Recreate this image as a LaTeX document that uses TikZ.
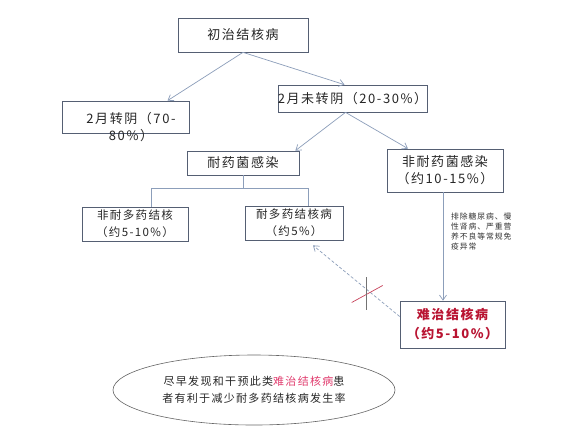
\documentclass[tikz,border=0pt]{standalone}
\usepackage{fontspec}
\newfontfamily\cjk[LetterSpace=12]{Noto Sans CJK SC}
\usetikzlibrary{shapes.geometric,arrows.meta}
\definecolor{boxline}{RGB}{85,95,115}
\definecolor{linkcol}{RGB}{140,158,186}
\definecolor{hardred}{RGB}{185,20,50}
\definecolor{pinkred}{RGB}{225,60,110}

\begin{document}
\begin{tikzpicture}[x=1pt, y=-1pt, >={Straight Barb[length=5pt,width=7pt]},
  box/.style={draw=boxline, line width=0.7pt, inner sep=0pt, align=center, text=black!85, font=\cjk\fontsize{13}{17}\selectfont},
  smallbox/.style={box, font=\cjk\fontsize{11.5}{17}\selectfont},
  link/.style={draw=linkcol, line width=0.7pt}]
  \fill[white] (0,0) rectangle (577,432);
  \useasboundingbox (0,0) rectangle (577,432);

  % first and second month
  \node[box, minimum width=130pt, minimum height=34pt] (start) at (243,35) {初治结核病};
  \node[box, minimum width=127pt, minimum height=32pt] (yin) at (125.5,117) {};
  \node[font=\cjk\fontsize{13}{17}\selectfont, align=center, text=black!85] (yintext) at (131,127) {2月转阴（70-\\80\%）};
  \node[box, minimum width=143pt, minimum height=27pt] (weiyin) at (352.5,98.5) {2月未转阴（20-30\%）};
  \draw[link,->] (start.south) -- ([xshift=42pt]yin.north);
  \draw[link,->] (start.south) -- ([xshift=-8pt]weiyin.north);

  % resistant or not
  \node[box, minimum width=112pt, minimum height=24pt] (naiyao) at (243,163) {耐药菌感染};
  \node[box, minimum width=116pt, minimum height=43pt] (feinai) at (445,170.5) {非耐药菌感染\\（约10-15\%）};
  \draw[link,->] ([xshift=-7pt]weiyin.south) -- ([xshift=-4pt]naiyao.north east);
  \draw[link,->] ([xshift=-7pt]weiyin.south) -- ([xshift=-37pt]feinai.north);

  % split of the resistant branch
  \node[smallbox, minimum width=106pt, minimum height=34pt] (feiduo) at (135,224) {非耐多药结核\\（约5-10\%）};
  \node[smallbox, minimum width=98pt, minimum height=34pt] (naiduo) at (294,223) {耐多药结核病\\（约5\%）};
  \draw[link] (naiyao.south) -- ++(0,13) coordinate (fork);
  \draw[link] ([xshift=16pt]feiduo.north) |- (fork) -| ([xshift=14pt]naiduo.north);

  % hard to treat
  \node[box, minimum width=105pt, minimum height=47pt, text=hardred, font=\cjk\bfseries\fontsize{13}{19}\selectfont] (nanzhi) at (452.5,324.5) {难治结核病\\（约5-10\%）};
  \draw[link,->] ([xshift=-2pt]feinai.south) -- ([xshift=-9.5pt]nanzhi.north);
  \node[anchor=north west, align=left, inner sep=0pt, font=\cjk\fontsize{7.8}{9.8}\selectfont, text=black!80] (note) at (451,213) {排除糖尿病、慢\\性肾病、严重营\\养不良等常规免\\疫异常};

  % blocked way back to MDR
  \draw[link,->,densely dashed] ([yshift=8pt]nanzhi.west) -- coordinate[pos=0.38] (cut) ([xshift=19pt,yshift=-5pt]naiduo.south);
  \draw[hardred!80, line width=0.7pt] ([shift={(-15,13)}]cut) -- ([shift={(16,-4)}]cut);
  \draw[black!55, line width=0.7pt] ([shift={(0,-12)}]cut) -- ([shift={(0,21)}]cut);

  % advice
  \node[draw=black!60, line width=0.6pt, ellipse, minimum width=282pt, minimum height=70pt, align=center, text=black!85, font=\cjk\fontsize{11}{17}\selectfont] (advice) at (254,390) {尽早发现和干预此类\textcolor{pinkred}{难治结核病}患\\者有利于减少耐多药结核病发生率};
\end{tikzpicture}
\end{document}
